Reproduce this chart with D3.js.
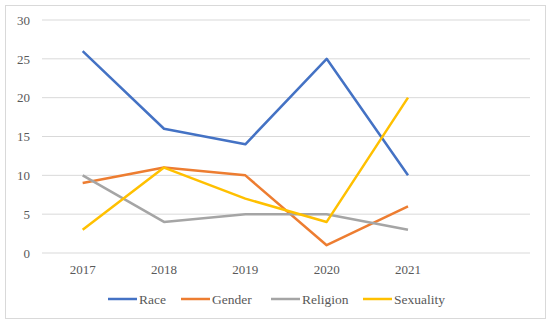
<!DOCTYPE html>
<html>
<head>
<meta charset="utf-8">
<script src="https://cdn.jsdelivr.net/npm/d3@7"></script>
<style>
  body { margin: 0; background: #fff; }
  text { font-family: "Liberation Serif", "DejaVu Serif", serif; fill: #595959; }
</style>
</head>
<body>
<svg id="chart" width="550" height="325"></svg>
<script>
// chart data
const years = ['2017', '2018', '2019', '2020', '2021', ''];
const race = [26, 16, 14, 25, 10];
const gender = [9, 11, 10, 1, 6];
const religion = [10, 4, 5, 5, 3];
const sexuality = [3, 11, 7, 4, 20];
const yTicks = [0, 5, 10, 15, 20, 25, 30];

const series = [
  { name: 'Race', values: race, color: '#4472C4' },
  { name: 'Gender', values: gender, color: '#ED7D31' },
  { name: 'Religion', values: religion, color: '#A5A5A5' },
  { name: 'Sexuality', values: sexuality, color: '#FFC000' },
];

const svg = d3.select('#chart');

// outer frame
svg.append('rect')
  .attr('x', 5.5).attr('y', 5.5)
  .attr('width', 540).attr('height', 313)
  .attr('fill', 'none')
  .attr('stroke', '#d9d9d9');

const x = d3.scaleBand()
  .domain(years)
  .range([42, 530]);

const y = d3.scaleLinear()
  .domain([0, 30])
  .range([253, 20]);

// gridlines
svg.append('g')
  .selectAll('line')
  .data(yTicks)
  .enter()
  .append('line')
  .attr('x1', 42)
  .attr('x2', 530)
  .attr('y1', d => y(d))
  .attr('y2', d => y(d))
  .attr('stroke', '#d9d9d9')
  .attr('stroke-width', 1);

// y axis labels
const yAxis = svg.append('g')
  .attr('transform', 'translate(30, 0)')
  .call(d3.axisLeft(y).tickValues(yTicks).tickSize(0).tickPadding(0));
yAxis.select('.domain').remove();
yAxis.selectAll('text')
  .style('font-size', '13px')
  .style('font-family', '"Liberation Serif", serif')
  .attr('fill', '#595959');

// x axis labels
const xAxis = svg.append('g')
  .attr('transform', 'translate(0, 253)')
  .call(d3.axisBottom(x).tickSize(0).tickPadding(12));
xAxis.select('.domain').remove();
xAxis.selectAll('text')
  .style('font-size', '13px')
  .style('font-family', '"Liberation Serif", serif')
  .attr('fill', '#595959');

const line = d3.line()
  .x((d, i) => x(years[i]) + x.bandwidth() / 2)
  .y(d => y(d));

svg.append('g')
  .selectAll('path')
  .data(series)
  .enter()
  .append('path')
  .attr('d', d => line(d.values))
  .attr('fill', 'none')
  .attr('stroke', d => d.color)
  .attr('stroke-width', 2.5)
  .attr('stroke-linejoin', 'round');

// legend
const legendX = [108, 181, 271, 363];
const legend = svg.append('g')
  .selectAll('g')
  .data(series)
  .enter()
  .append('g')
  .attr('transform', (d, i) => `translate(${legendX[i]}, 299)`);

legend.append('line')
  .attr('x1', 0).attr('x2', 29)
  .attr('y1', 0).attr('y2', 0)
  .attr('stroke', d => d.color)
  .attr('stroke-width', 2.5);

legend.append('text')
  .attr('x', 31)
  .attr('dy', '0.35em')
  .style('font-size', '13.5px')
  .text(d => d.name);
</script>
</body>
</html>
